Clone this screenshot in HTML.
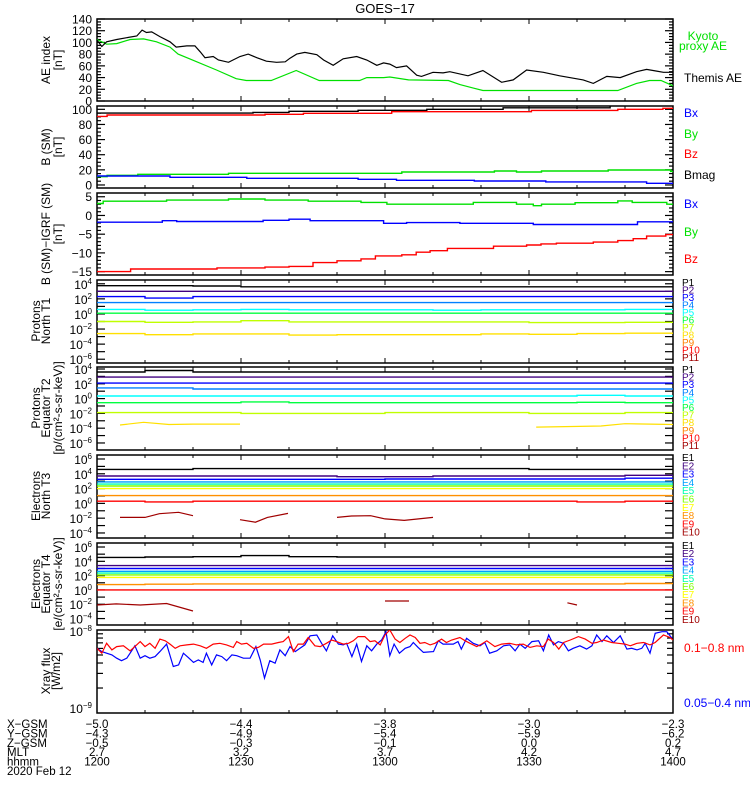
<!DOCTYPE html>
<html><head><meta charset="utf-8"><title>GOES-17</title>
<style>
html,body{margin:0;padding:0;background:#fff;}
svg{display:block;font-family:"Liberation Sans",sans-serif;}
</style></head>
<body>
<svg id="chart" width="750" height="800" viewBox="0 0 750 800" xmlns="http://www.w3.org/2000/svg">
<rect width="750" height="800" fill="#fff"/>
<text x="385" y="13" font-size="13" text-anchor="middle">GOES−17</text>
</svg>
<script>
// ---------- data ----------
const timeTickLabels = ["1200","1230","1300","1330","1400"];
const xgsm = ["−5.0","−4.4","−3.8","−3.0","−2.3"];
const ygsm = ["−4.3","−4.9","−5.4","−5.9","−6.2"];
const zgsm = ["−0.5","−0.3","−0.1","0.0","0.2"];
const mlt = ["2.7","3.2","3.7","4.2","4.7"];

const aeTimes = [0,1.0,2.0,4.1,6.2,8.3,9.4,10.3,11.4,13.1,15.2,16.5,18.7,20.4,21.5,22.5,24.2,25.3,27.4,29.8,31.5,33.3,35.3,37.4,39.2,40.2,41.6,43.3,45.8,47.2,49.2,51.3,54.1,56.2,58.3,59.7,61.0,62.4,64.5,66.6,67.6,70.0,72.1,73.5,77.3,80.4,84.3,86.7,89.5,93.0,96.4,101.3,103.4,106.2,109.0,112.4,114.5,116.6,118.0,120];
const themisAE = [104,93,101,105,108,111,121,117,118,110,101,92,94,94,84,74,76,70,66,76,80,74,68,66,67,73,80,83,79,70,61,72,76,70,61,65,63,57,60,44,42,49,48,50,43,52,32,36,53,49,43,36,30,42,40,50,54,51,49,49];
const kyotoTimes = [0,2,4.1,6.9,9.7,12.4,15.2,16.9,19.3,24.9,29.0,31.1,36.3,41.5,46.3,54.7,56.2,59.7,61.0,64.9,73.2,75.6,78.4,80.4,108.5,112.4,115.1,117.5,120];
const kyotoAE = [105,97,98,105,106,101,92,80,72,53,38,35,35,52,35,35,40,40,41,36,35,28,22,18,18,30,35,35,26];

const bmagT = [0,32.5,40,54.4,68.7,84.6,106.9,120];
const bmagV = [95,96,97.4,98.7,100,102,106];
const bzT = [0,2.1,35,43,61.4,90.5,108.5,117.9,120];
const bzV = [90.7,92.5,93.4,94.7,96.8,98.6,100,101.3];
const byT = [0,2.1,8.5,27.4,63.5,82.8,87.4,92.6,106.5,119.5,120];
const byV = [11,12.8,14.1,15.4,17.2,18.5,17.2,18.5,19.8,18];
const bxT = [0,15.2,31.2,54.4,62.4,78.6,93.5,114.5,120];
const bxV = [11.9,10.2,8.8,7.5,6.2,5.3,4.0,2.2];

const dbyT = [0,1.3,14.5,27.4,35,44,55,60.4,78.4,87.4,90.9,92.6,99.6,108.5,111.5,118.7,120];
const dbyV = [3.2,3.8,4.1,4.4,4.1,3.8,3.5,3.0,3.5,3.0,2.6,3.0,3.4,3.9,3.5,3.0];
const dbxT = [0,13.6,16.6,34.6,40,44.4,59.7,64.5,75.6,90.9,102,112.6,120];
const dbxV = [-1.8,-1.4,-1.6,-1.3,-1.0,-1.4,-2.1,-1.9,-2.1,-2.4,-2.4,-1.7];
const dbzT = [0,7,25,35,40,45,50,55,58,63.5,66.5,69.4,73,82.6,89.5,92.5,95.7,103.4,108.5,111.7,114.5,118.5,120];
const dbzV = [-15,-14.3,-14.0,-13.8,-13.6,-12.6,-12.1,-11.6,-10.8,-10.5,-9.8,-9.4,-8.8,-8.2,-7.9,-7.6,-7.4,-7.1,-6.7,-6.2,-5.5,-5.1];

const stepTimes = [0,10,20,30,40,50,60,70,80,90,100,110,120];
const pN1 = [3.75,3.75,3.7,3.6,3.6,3.6,3.6,3.6,3.6,3.6,3.6,3.6];
const pN2 = [3.0,3.0,3.0,3.0,3.0,3.0,3.0,3.0,3.0,3.0,3.0,3.0];
const pN3 = [2.3,2.1,2.3,2.3,2.3,2.3,2.3,2.3,2.3,2.3,2.3,2.3];
const pN4 = [1.5,1.5,1.5,1.5,1.5,1.5,1.5,1.5,1.5,1.5,1.5,1.5];
const pN5 = [0.6,0.5,0.55,0.6,0.55,0.55,0.55,0.5,0.55,0.55,0.55,0.6];
const pN6 = [0.1,0.1,0.1,0.1,0.1,0.1,0.1,0.1,0.1,0.1,0.1,0.1];
const pN7 = [-1.0,-1.1,-1.05,-0.9,-1.05,-1.05,-1.05,-1.05,-1.05,-1.15,-1.15,-1.1];
const pN8 = [-2.6,-2.75,-2.65,-2.65,-2.8,-2.75,-2.75,-2.75,-2.65,-2.7,-2.6,-2.55];

const pE1 = [3.6,3.8,3.6,3.6,3.6,3.6,3.6,3.6,3.6,3.6,3.6,3.6];
const pE2 = [2.9,2.9,2.9,2.9,2.9,2.9,2.9,2.9,2.9,2.9,2.9,2.9];
const pE3 = [2.1,2.1,2.1,2.1,2.1,2.1,2.1,2.1,2.1,2.1,2.1,2.1];
const pE4 = [1.45,1.45,1.3,1.3,1.3,1.3,1.3,1.3,1.3,1.3,1.3,1.3];
const pE5 = [0.35,0.35,0.35,0.35,0.35,0.35,0.35,0.35,0.35,0.35,0.45,0.35];
const pE6 = [-0.55,-0.55,-0.55,-0.45,-0.55,-0.55,-0.55,-0.55,-0.55,-0.55,-0.5,-0.55];
const pE7 = [-1.9,-1.9,-1.9,-2.0,-2.0,-2.0,-1.9,-1.9,-1.9,-2.0,-2.0,-1.9];
const pE8T = [4.8,9.7,15,20,29.8,null,91.5,105,110,120];
const pE8V = [-3.57,-3.2,-3.5,-3.45,-3.45,null,-3.85,-3.7,-3.4,-3.5];

const eN1 = [4.6,4.6,4.7,4.7,4.7,4.7,4.7,4.7,4.7,4.6,4.6,4.6];
const eN2 = [3.7,3.7,3.7,3.7,3.7,3.6,3.6,3.7,3.7,3.7,3.7,3.8];
const eN3 = [3.25,3.25,3.25,3.25,3.25,3.25,3.3,3.3,3.3,3.3,3.3,3.4];
const eN4 = [2.9,2.9,2.9,2.9,2.9,2.9,2.9,2.9,2.9,2.9,2.9,2.9];
const eN5 = [2.6,2.6,2.6,2.6,2.6,2.6,2.6,2.6,2.6,2.6,2.6,2.6];
const eN6 = [2.35,2.35,2.35,2.35,2.35,2.35,2.35,2.35,2.35,2.35,2.35,2.35];
const eN7 = [2.0,2.0,2.0,2.0,2.0,2.0,2.0,2.0,2.0,2.0,2.0,2.0];
const eN8 = [1.05,1.05,1.05,1.05,1.05,1.05,1.05,1.05,1.05,1.05,1.05,1.05];
const eN9 = [0.3,0.2,0.3,0.3,0.3,0.3,0.3,0.3,0.3,0.3,0.2,0.3];
const eN10T = [4.8,10,13,17,20,null,29.8,33,35.5,39.8,null,50,53,57,60,64,70];
const eN10V = [-1.9,-1.9,-1.4,-1.2,-1.66,null,-2.2,-2.55,-1.9,-1.35,null,-1.9,-1.7,-1.66,-2.1,-2.3,-1.9];

const eE1 = [4.55,4.6,4.65,4.8,4.65,4.6,4.6,4.6,4.6,4.6,4.6,4.6];
const eE2 = [3.4,3.4,3.4,3.4,3.4,3.4,3.4,3.4,3.4,3.4,3.4,3.4];
const eE3 = [3.0,3.0,3.0,3.0,3.0,3.0,3.0,3.0,3.0,3.0,3.0,3.0];
const eE4 = [2.6,2.6,2.6,2.6,2.6,2.6,2.6,2.6,2.6,2.6,2.6,2.6];
const eE5 = [2.35,2.35,2.35,2.35,2.35,2.35,2.35,2.35,2.35,2.35,2.35,2.35];
const eE6 = [2.1,2.1,2.1,2.1,2.1,2.1,2.1,2.1,2.1,2.1,2.1,2.1];
const eE7 = [1.75,1.75,1.75,1.75,1.75,1.75,1.75,1.75,1.75,1.75,1.75,1.75];
const eE8 = [0.75,0.8,0.85,0.85,0.85,0.85,0.85,0.85,0.85,0.85,0.85,0.9];
const eE9 = [0.0,0.0,0.0,0.0,0.0,0.0,0.0,0.0,0.0,0.0,0.0,0.0];
const eE10T = [0,4,9,14.5,20,null,60,65,null,98,100];
const eE10V = [-2.1,-1.95,-2.1,-1.9,-2.95,null,-1.55,-1.55,null,-1.8,-2.1];

const xrLongT = [0,1.0,2.0,3.1,4.1,5.5,6.9,7.9,9.0,10.0,11.0,12.1,13.1,14.2,15.2,16.3,17.3,18.7,20.1,21.5,22.8,24.2,25.6,27.0,28.4,29.1,30.1,31.2,32.6,33.6,34.7,36.4,37.8,38.8,39.9,40.9,41.9,43.0,44.0,45.4,46.5,47.8,48.9,49.9,51.3,52.4,53.4,54.4,55.8,56.9,57.9,59.0,60.0,61.0,62.1,63.1,64.2,65.2,66.3,67.3,68.3,69.4,70.4,71.8,72.8,73.9,75.6,76.7,77.7,79.1,80.1,81.2,82.9,84.3,86.0,87.4,88.8,90.2,91.6,93.0,94.0,95.1,96.2,97.2,98.6,100.3,101.7,103.1,104.1,105.5,107.2,108.6,110.0,111.1,112.5,113.9,115.2,116.3,118.0,119.4,120];
const xrLongV = [-8.22,-8.28,-8.16,-8.24,-8.20,-8.19,-8.25,-8.20,-8.14,-8.20,-8.16,-8.22,-8.11,-8.13,-8.17,-8.22,-8.19,-8.18,-8.17,-8.19,-8.22,-8.17,-8.16,-8.18,-8.21,-8.14,-8.17,-8.16,-8.22,-8.21,-8.17,-8.17,-8.15,-8.14,-8.08,-8.26,-8.17,-8.17,-8.09,-8.19,-8.20,-8.16,-8.12,-8.14,-8.17,-8.16,-8.13,-8.08,-8.08,-8.14,-8.13,-8.18,-8.06,-8.00,-8.11,-8.15,-8.10,-8.06,-8.09,-8.16,-8.15,-8.18,-8.16,-8.11,-8.15,-8.12,-8.09,-8.13,-8.16,-8.20,-8.17,-8.13,-8.20,-8.17,-8.16,-8.18,-8.17,-8.21,-8.19,-8.20,-8.11,-8.15,-8.23,-8.15,-8.12,-8.08,-8.11,-8.16,-8.15,-8.12,-8.15,-8.16,-8.17,-8.19,-8.16,-8.15,-8.18,-8.15,-8.06,-8.09,-8.12];
const xrShortT = [0,1.0,2.0,3.1,4.1,5.1,6.2,6.9,7.9,9.0,10.0,11.0,12.1,13.1,14.5,15.9,17.0,18.0,19.0,20.1,21.1,22.1,22.8,23.9,24.9,26.0,27.0,28.1,29.1,30.5,31.9,33.1,34.0,34.9,36.0,37.1,38.1,39.2,40.2,41.3,42.3,43.3,44.4,45.8,46.8,47.8,49.1,50.3,51.3,52.0,53.1,54.1,55.1,56.2,57.2,58.3,59.3,60.2,61.0,61.9,63.0,64.2,65.2,65.9,66.9,68.0,70.1,71.1,72.1,73.2,74.2,75.2,75.9,77.0,78.4,79.8,80.8,81.8,83.3,84.7,86.0,87.1,88.1,89.2,90.6,92.0,93.0,94.1,95.1,96.1,97.2,98.2,99.2,100.6,102.0,103.1,104.1,105.2,106.2,107.6,109.0,110.4,111.4,112.5,113.5,114.2,115.2,116.3,117.7,118.7,119.8];
const xrShortV = [-8.22,-8.26,-8.28,-8.30,-8.34,-8.37,-8.34,-8.28,-8.19,-8.34,-8.31,-8.34,-8.32,-8.26,-8.17,-8.44,-8.42,-8.28,-8.33,-8.39,-8.36,-8.39,-8.28,-8.42,-8.30,-8.32,-8.37,-8.30,-8.31,-8.34,-8.34,-8.20,-8.36,-8.58,-8.37,-8.40,-8.24,-8.31,-8.20,-8.26,-8.22,-8.18,-8.07,-8.06,-8.16,-8.25,-8.07,-8.17,-8.18,-8.16,-8.32,-8.17,-8.38,-8.19,-8.25,-8.17,-8.12,-8.02,-8.31,-8.17,-8.28,-8.22,-8.20,-8.15,-8.21,-8.27,-8.26,-8.13,-8.17,-8.17,-8.17,-8.14,-8.23,-8.10,-8.16,-8.19,-8.15,-8.28,-8.25,-8.19,-8.18,-8.25,-8.17,-8.22,-8.14,-8.13,-8.25,-8.06,-8.18,-8.14,-8.16,-8.25,-8.22,-8.19,-8.23,-8.19,-8.06,-8.14,-8.07,-8.15,-8.07,-8.23,-8.22,-8.24,-8.22,-8.16,-8.28,-8.04,-8.02,-8.02,-8.10];

// ---------- helpers ----------
const NS = "http://www.w3.org/2000/svg";
const svg = document.getElementById("chart");
const X0 = 97, X1 = 673, TMIN = 0, TMAX = 120;
function xAt(t){ return X0 + (t - TMIN) / (TMAX - TMIN) * (X1 - X0); }
function yAt(p, v){ return p.bot - (v - p.min) / (p.max - p.min) * (p.bot - p.top); }
function mk(tag, attrs, parent){
  const e = document.createElementNS(NS, tag);
  for (const k in attrs) e.setAttribute(k, attrs[k]);
  (parent || svg).appendChild(e);
  return e;
}
function txt(x, y, s, size, fill, anchor, parent){
  const e = mk("text", {x:x, y:y, "font-size":size, fill:fill||"#000", "text-anchor":anchor||"start"}, parent);
  e.textContent = s;
  return e;
}
function supLabel(x, y, base, exp, parent){
  const e = mk("text", {x:x, y:y, "font-size":12, "text-anchor":"end"}, parent);
  const t1 = document.createElementNS(NS, "tspan"); t1.textContent = base; e.appendChild(t1);
  const t2 = document.createElementNS(NS, "tspan"); t2.setAttribute("dy", "-5"); t2.setAttribute("font-size", "8"); t2.textContent = exp; e.appendChild(t2);
  return e;
}

const panels = [
  {id:"ae", top:19, bot:101, min:0, max:140},
  {id:"b", top:106, bot:188, min:-4, max:104.4},
  {id:"db", top:193, bot:275, min:-15.9, max:6.0},
  {id:"pn", top:280, bot:363, min:-6.5, max:4.5},
  {id:"pe", top:367, bot:450, min:-6.95, max:4.27},
  {id:"en", top:455, bot:538, min:-4.68, max:6.54},
  {id:"ee", top:543, bot:625, min:-4.9, max:6.56},
  {id:"xr", top:630, bot:713, min:-9, max:-8}
];
const defs = mk("defs", {});
panels.forEach(p => {
  const cp = mk("clipPath", {id:"clip-"+p.id}, defs);
  mk("rect", {x:X0, y:p.top, width:X1-X0, height:p.bot-p.top}, cp);
});

function lineSeries(p, ts, vs, color, name){
  let d = "", pen = false;
  for (let i = 0; i < ts.length; i++){
    if (ts[i] === null || vs[i] === null){ pen = false; continue; }
    d += (pen ? "L" : "M") + xAt(ts[i]).toFixed(1) + " " + yAt(p, vs[i]).toFixed(1);
    pen = true;
  }
  const e = mk("path", {d:d, fill:"none", stroke:color, "stroke-width":1.2, "clip-path":"url(#clip-"+p.id+")"});
  
  
  return e;
}
function stepSeries(p, ts, vs, color, name){
  let d = "M" + xAt(ts[0]).toFixed(1) + " " + yAt(p, vs[0]).toFixed(1);
  for (let i = 0; i < vs.length; i++){
    d += "H" + xAt(ts[i+1]).toFixed(1);
    if (i + 1 < vs.length) d += "V" + yAt(p, vs[i+1]).toFixed(1);
  }
  const e = mk("path", {d:d, fill:"none", stroke:color, "stroke-width":1.4, "clip-path":"url(#clip-"+p.id+")"});
  
  
  return e;
}
function frame(p, name){
  const g = mk("g", {});
  
  
  mk("rect", {x:X0, y:p.top, width:X1-X0, height:p.bot-p.top, fill:"none", stroke:"#000", "stroke-width":1.5}, g);
  for (let t = 10; t < 120; t += 10){
    const L = (t % 30 === 0) ? 5 : 3;
    mk("line", {x1:xAt(t), x2:xAt(t), y1:p.bot, y2:p.bot-L, stroke:"#000"}, g);
    mk("line", {x1:xAt(t), x2:xAt(t), y1:p.top, y2:p.top+L, stroke:"#000"}, g);
  }
  return g;
}
function yTick(g, p, v, len){
  const y = yAt(p, v);
  mk("line", {x1:X0, x2:X0+len, y1:y, y2:y, stroke:"#000", "stroke-width":1.2}, g);
  mk("line", {x1:X1, x2:X1-len, y1:y, y2:y, stroke:"#000", "stroke-width":1.2}, g);
}
function leftTitle(lines, cy, xs, name){
  const g = mk("g", {});
  
  
  lines.forEach((s, i) => {
    const t = mk("text", {x:0, y:0, "font-size":12, "text-anchor":"middle", transform:"translate("+xs[i]+","+cy+") rotate(-90)"}, g);
    t.textContent = s;
  });
}
function rightLabels(labels, colors, y0, dy, name){
  const g = mk("g", {});
  
  
  labels.forEach((s, i) => { txt(682, y0 + i*dy, s, 10, colors[i], "start", g); });
}

// ---------- panel 1: AE ----------
(function(){
  const p = panels[0];
  const g = frame(p, "ae-index-panel");
  for (let v = 0; v <= 140; v += 5) yTick(g, p, v, v % 20 === 0 ? 8 : 4);
  for (let v = 0; v <= 140; v += 20) txt(92, yAt(p, v)+4.5, String(v), 12, "#000", "end", g);
  lineSeries(p, kyotoTimes, kyotoAE, "#00e000", "kyoto-proxy-ae-line");
  lineSeries(p, aeTimes, themisAE, "#000", "themis-ae-line");
  leftTitle(["AE index","[nT]"], 60, [50,62], "ae-y-axis-title");
  const lg = mk("g", {});
  
  
  txt(703, 40, "Kyoto", 12, "#00e000", "middle", lg);
  txt(703, 50, "proxy AE", 12, "#00e000", "middle", lg);
  txt(684, 82, "Themis AE", 12, "#000", "start", lg);
})();

// ---------- panel 2: B (SM) ----------
(function(){
  const p = panels[1];
  const g = frame(p, "b-sm-panel");
  for (let v = 0; v <= 100; v += 5) yTick(g, p, v, v % 20 === 0 ? 8 : 4);
  for (let v = 0; v <= 100; v += 20) txt(92, yAt(p, v)+4.5, String(v), 12, "#000", "end", g);
  stepSeries(p, bmagT, bmagV, "#000", "bmag-line");
  stepSeries(p, bzT, bzV, "#ff0000", "bz-line");
  stepSeries(p, byT, byV, "#00e000", "by-line");
  stepSeries(p, bxT, bxV, "#0000ff", "bx-line");
  leftTitle(["B (SM)","[nT]"], 147, [50,62], "b-sm-y-axis-title");
  const lg = mk("g", {});
  
  
  txt(684, 117, "Bx", 12, "#0000ff", "start", lg);
  txt(684, 138, "By", 12, "#00e000", "start", lg);
  txt(684, 158, "Bz", 12, "#ff0000", "start", lg);
  txt(684, 179, "Bmag", 12, "#000", "start", lg);
})();

// ---------- panel 3: B - IGRF ----------
(function(){
  const p = panels[2];
  const g = frame(p, "b-minus-igrf-panel");
  for (let v = -15; v <= 5; v += 1) yTick(g, p, v, v % 5 === 0 ? 8 : 4);
  for (let v = -15; v <= 5; v += 5) txt(92, yAt(p, v)+4.5, v < 0 ? "−" + (-v) : String(v), 12, "#000", "end", g);
  stepSeries(p, dbyT, dbyV, "#00e000", "delta-by-line");
  stepSeries(p, dbxT, dbxV, "#0000ff", "delta-bx-line");
  stepSeries(p, dbzT, dbzV, "#ff0000", "delta-bz-line");
  leftTitle(["B (SM)−IGRF (SM)","[nT]"], 234, [50,62], "b-igrf-y-axis-title");
  const lg = mk("g", {});
  
  
  txt(684, 208, "Bx", 12, "#0000ff", "start", lg);
  txt(684, 236, "By", 12, "#00e000", "start", lg);
  txt(684, 263, "Bz", 12, "#ff0000", "start", lg);
})();

// ---------- log panels ----------
const pColors = ["#000","#400080","#0000ff","#0080ff","#00ffff","#00ff40","#c0ff00","#ffe000","#ff8000","#ff0000","#a00000"];
const eColors = ["#000","#400080","#0000ff","#00a0ff","#00ffb0","#80ff00","#ffff00","#ff9000","#ff0000","#a00000"];
const pLabels = ["P1","P2","P3","P4","P5","P6","P7","P8","P9","P10","P11"];
const eLabels = ["E1","E2","E3","E4","E5","E6","E7","E8","E9","E10"];
function logAxis(g, p, lo, hi){
  for (let d = lo; d <= hi; d++) yTick(g, p, d, 8);
  for (let d = lo; d <= hi; d += 2) supLabel(92, yAt(p, d)+5, "10", d < 0 ? "−" + (-d) : String(d), g);
}
(function(){
  const p = panels[3];
  const g = frame(p, "protons-north-t1-panel");
  logAxis(g, p, -6, 4);
  const chans = [pN1,pN2,pN3,pN4,pN5,pN6,pN7,pN8];
  chans.forEach((c, i) => stepSeries(p, stepTimes, c, pColors[i], "proton-north-p" + (i+1) + "-line"));
  leftTitle(["Protons","North T1"], 321, [40,50], "protons-north-y-axis-title");
  rightLabels(pLabels, pColors, 286, 7.5, "protons-north-legend");
})();
(function(){
  const p = panels[4];
  const g = frame(p, "protons-equator-t2-panel");
  logAxis(g, p, -6, 4);
  const chans = [pE1,pE2,pE3,pE4,pE5,pE6,pE7];
  chans.forEach((c, i) => stepSeries(p, stepTimes, c, pColors[i], "proton-equator-p" + (i+1) + "-line"));
  lineSeries(p, pE8T, pE8V, pColors[7], "proton-equator-p8-line");
  leftTitle(["Protons","Equator T2","[p/(cm²-s-sr-keV)]"], 408, [40,50,62], "protons-equator-y-axis-title");
  rightLabels(pLabels, pColors, 373, 7.6, "protons-equator-legend");
})();
(function(){
  const p = panels[5];
  const g = frame(p, "electrons-north-t3-panel");
  logAxis(g, p, -4, 6);
  const chans = [eN1,eN2,eN3,eN4,eN5,eN6,eN7,eN8,eN9];
  chans.forEach((c, i) => stepSeries(p, stepTimes, c, eColors[i], "electron-north-e" + (i+1) + "-line"));
  lineSeries(p, eN10T, eN10V, eColors[9], "electron-north-e10-line");
  leftTitle(["Electrons","North T3"], 496, [40,50], "electrons-north-y-axis-title");
  rightLabels(eLabels, eColors, 461, 8.3, "electrons-north-legend");
})();
(function(){
  const p = panels[6];
  const g = frame(p, "electrons-equator-t4-panel");
  logAxis(g, p, -4, 6);
  const chans = [eE1,eE2,eE3,eE4,eE5,eE6,eE7,eE8,eE9];
  chans.forEach((c, i) => stepSeries(p, stepTimes, c, eColors[i], "electron-equator-e" + (i+1) + "-line"));
  lineSeries(p, eE10T, eE10V, eColors[9], "electron-equator-e10-line");
  leftTitle(["Electrons","Equator T4","[e/(cm²-s-sr-keV)]"], 584, [40,50,62], "electrons-equator-y-axis-title");
  rightLabels(eLabels, eColors, 549, 8.2, "electrons-equator-legend");
})();

// ---------- xray ----------
(function(){
  const p = panels[7];
  const g = frame(p, "xray-flux-panel");
  for (let m = 2; m <= 9; m++) yTick(g, p, -9 + Math.log10(m), 6);
  supLabel(92, p.top+6, "10", "−8", g);
  supLabel(92, p.bot, "10", "−9", g);
  lineSeries(p, xrShortT, xrShortV, "#0000ff", "xray-short-line");
  lineSeries(p, xrLongT, xrLongV, "#ff0000", "xray-long-line");
  leftTitle(["Xray flux","[W/m2]"], 671, [50,60], "xray-y-axis-title");
  const lg = mk("g", {});
  
  
  txt(684, 652, "0.1−0.8 nm", 12, "#ff0000", "start", lg);
  txt(684, 707, "0.05−0.4 nm", 12, "#0000ff", "start", lg);
})();

// ---------- bottom annotation table ----------
(function(){
  const g = mk("g", {});
  
  
  const rows = [["X−GSM", xgsm],["Y−GSM", ygsm],["Z−GSM", zgsm],["MLT", mlt],["hhmm", timeTickLabels]];
  rows.forEach((r, i) => {
    const y = 728 + i*9.4;
    txt(7, y, r[0], 11.5, "#000", "start", g);
    r[1].forEach((s, j) => txt(xAt(j*30), y, s, 11.5, "#000", "middle", g));
  });
  txt(7, 775, "2020 Feb 12", 11.5, "#000", "start", g);
})();
</script>
</body></html>
